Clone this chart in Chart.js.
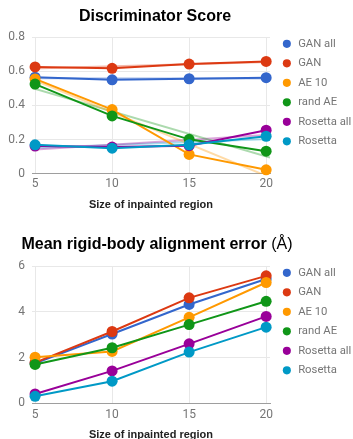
<!DOCTYPE html>
<html>
<head>
<meta charset="utf-8">
<script src="https://cdn.jsdelivr.net/npm/chart.js@4.4.1/dist/chart.umd.min.js"></script>
<style>
  html, body { margin: 0; padding: 0; background: #fff; }
  body { width: 353px; height: 439px; overflow: hidden; position: relative; }
  #scoreChart { position: absolute; left: 0; top: 0; }
  #errorChart { position: absolute; left: 0; top: 220px; }
</style>
</head>
<body>
<canvas id="scoreChart" width="356" height="220"></canvas>
<canvas id="errorChart" width="356" height="232"></canvas>
<script>
const regionSizes = [5, 10, 15, 20];
const seriesNames = ['GAN all', 'GAN', 'AE 10', 'rand AE', 'Rosetta all', 'Rosetta'];
const seriesColors = ['#3366cc', '#dc3912', '#ff9900', '#109618', '#990099', '#0099c6'];

// Discriminator score per series
const scoreGanAll = [0.565, 0.55, 0.556, 0.562];
const scoreGan = [0.625, 0.617, 0.642, 0.657];
const scoreAe10 = [0.555, 0.376, 0.114, 0.024];
const scoreRandAe = [0.525, 0.339, 0.202, 0.133];
const scoreRosettaAll = [0.163, 0.157, 0.165, 0.255];
const scoreRosetta = [0.17, 0.15, 0.17, 0.22];
const scoreTicks = [0, 0.2, 0.4, 0.6, 0.8];

// Mean rigid-body alignment error per series
const errGanAll = [1.75, 3.03, 4.32, 5.43];
const errGan = [1.78, 3.14, 4.61, 5.57];
const errAe10 = [2.02, 2.27, 3.76, 5.28];
const errRandAe = [1.70, 2.43, 3.44, 4.46];
const errRosettaAll = [0.41, 1.42, 2.6, 3.8];
const errRosetta = [0.31, 0.97, 2.24, 3.33];
const errTicks = [0, 2, 4, 6];

const xTitle = 'Size of inpainted region';
const scoreTitle = [{ text: 'Discriminator Score', bold: true }];
const errTitle = [{ text: 'Mean rigid-body alignment error ', bold: true }, { text: '(Å)', bold: false }];

const X_MIN = 4.8, X_MAX = 20.25;
const ARIAL = 'Arial, "Liberation Sans", sans-serif';
const ROBOTO = 'Roboto, sans-serif';

function withAlpha(hex, a) {
	let n = parseInt(hex.slice(1), 16);
	return 'rgba(' + (n >> 16) + ',' + ((n >> 8) & 255) + ',' + (n & 255) + ',' + a + ')';
}

// least squares line through the points, drawn across the whole x range
function trendPoints(values) {
	let mx = 0, my = 0;
	regionSizes.forEach((x, i) => { mx += x; my += values[i]; });
	mx /= values.length; my /= values.length;
	let sxy = 0, sxx = 0;
	regionSizes.forEach((x, i) => { sxy += (x - mx) * (values[i] - my); sxx += (x - mx) * (x - mx); });
	let b = sxy / sxx, a = my - b * mx;
	return [{ x: X_MIN, y: a + b * X_MIN }, { x: X_MAX, y: a + b * X_MAX }];
}

// title with a bold part and a normal part
const titlePlugin = {
	id: 'mixedTitle',
	afterDraw(chart, args, opts) {
		const ctx = chart.ctx;
		ctx.save();
		ctx.fillStyle = '#000';
		ctx.textBaseline = 'alphabetic';
		let total = 0;
		const parts = opts.parts.map(p => {
			ctx.font = (p.bold ? 'bold ' : '') + opts.size + 'px ' + ARIAL;
			let w = ctx.measureText(p.text).width;
			total += w;
			return { text: p.text, font: ctx.font, w: w };
		});
		let x = opts.x - total / 2;
		parts.forEach(p => {
			ctx.font = p.font;
			ctx.fillText(p.text, x, opts.y);
			x += p.w;
		});
		ctx.restore();
	}
};

// legend starts a bit above the plot area, like the original
const legendNudge = {
	id: 'legendNudge',
	afterLayout(chart, args, opts) {
		if (!chart.legend) return;
		chart.legend.top += opts.dy;
		chart.legend.bottom += opts.dy;
	}
};

function makeChart(canvas, seriesList, withTrend, yTicks, cfg) {
	const datasets = seriesList.map((vals, i) => ({
		label: seriesNames[i],
		data: vals.map((v, j) => ({ x: regionSizes[j], y: v })),
		borderColor: seriesColors[i],
		backgroundColor: seriesColors[i],
		pointBackgroundColor: seriesColors[i],
		pointBorderWidth: 0,
		pointRadius: 5.5,
		borderWidth: 2,
		tension: 0,
		clip: 8,
		order: seriesList.length - i
	}));
	if (withTrend) {
		seriesList.forEach((vals, i) => {
			datasets.push({
				label: seriesNames[i] + ' trend',
				data: trendPoints(vals),
				borderColor: withAlpha(seriesColors[i], 0.35),
				borderWidth: 2,
				pointRadius: 0,
				order: 20
			});
		});
	}

	return new Chart(canvas, {
		type: 'line',
		data: { datasets: datasets },
		plugins: [titlePlugin, legendNudge],
		options: {
			responsive: false,
			animation: false,
			layout: { padding: { top: cfg.padTop, bottom: cfg.padBottom, left: 0, right: 0 } },
			plugins: {
				tooltip: { enabled: false },
				mixedTitle: { parts: cfg.title, x: cfg.titleX, y: cfg.titleY, size: 16 },
				legendNudge: { dy: -7 },
				legend: {
					position: 'right',
					align: 'start',
					maxWidth: 83,
					labels: {
						usePointStyle: true,
						pointStyle: 'circle',
						boxWidth: 17,
						boxHeight: 5.7,
						padding: 8.2,
						color: '#757575',
						font: { family: ROBOTO, size: 11.3 },
						filter: item => item.datasetIndex < seriesNames.length,
						sort: (a, b) => a.datasetIndex - b.datasetIndex
					}
				}
			},
			scales: {
				x: {
					type: 'linear',
					min: X_MIN,
					max: X_MAX,
					afterBuildTicks: s => { s.ticks = regionSizes.map(v => ({ value: v })); },
					grid: { color: '#e8e8e8', drawTicks: false },
					border: { display: true, color: '#9e9e9e' },
					ticks: { color: '#757575', font: { family: ROBOTO, size: 12 }, padding: cfg.xTickPad, maxRotation: 0 },
					title: {
						display: true, text: xTitle, color: '#222',
						font: { family: ARIAL, size: 11, weight: 'bold' },
						padding: { top: cfg.xTitlePad, bottom: 4 }
					}
				},
				y: {
					min: yTicks[0],
					max: yTicks[yTicks.length - 1],
					afterBuildTicks: s => { s.ticks = yTicks.map(v => ({ value: v })); },
					grid: { color: '#e8e8e8', drawTicks: false },
					border: { display: false },
					ticks: { color: '#757575', font: { family: ROBOTO, size: 12 }, padding: 7 },
					afterFit: s => { s.width = 32; }
				},
				gap: {
					type: 'linear',
					position: 'right',
					ticks: { display: false },
					grid: { display: false, drawTicks: false },
					border: { display: false },
					afterFit: s => { s.width = 3; }
				}
			}
		}
	});
}

makeChart(document.getElementById('scoreChart'),
	[scoreGanAll, scoreGan, scoreAe10, scoreRandAe, scoreRosettaAll, scoreRosetta], true, scoreTicks,
	{ padTop: 37, padBottom: 4.5, title: scoreTitle, titleX: 155, titleY: 20.5, xTickPad: 3, xTitlePad: 4 });

makeChart(document.getElementById('errorChart'),
	[errGanAll, errGan, errAe10, errRandAe, errRosettaAll, errRosetta], false, errTicks,
	{ padTop: 46, padBottom: 6, title: errTitle, titleX: 157, titleY: 29.3, xTickPad: 4, xTitlePad: 3 });
</script>
</body>
</html>
